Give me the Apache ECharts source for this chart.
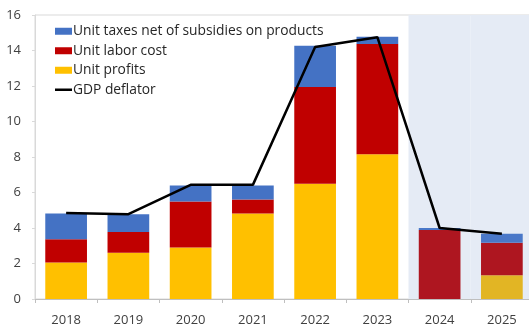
<!DOCTYPE html>
<html>
<head>
<meta charset="utf-8">
<script src="https://cdn.jsdelivr.net/npm/echarts@6/dist/echarts.min.js"></script>
<style>
  html, body { margin: 0; padding: 0; background: #fff; }
  #chart { width: 529px; height: 326px; }
</style>
</head>
<body>
<div id="chart"></div>
<script>
// Contributions to GDP deflator growth, percent
const years = ['2018', '2019', '2020', '2021', '2022', '2023', '2024', '2025'];
const forecastYears = ['2024', '2025'];
const unitProfits = [2.06, 2.6, 2.9, 4.82, 6.5, 8.15, 0, 1.34];
const unitLaborCost = [1.31, 1.18, 2.6, 0.78, 5.44, 6.21, 3.89, 1.83];
const unitTaxes = [1.44, 1.0, 0.89, 0.79, 2.33, 0.42, 0.11, 0.51];
const gdpDeflator = [4.84, 4.78, 6.43, 6.43, 14.2, 14.75, 4.0, 3.68];
const yTicks = { min: 0, max: 16, interval: 2 };

const FONT = '"Open Sans", "Noto Sans", sans-serif';
const colors = {
  taxes: '#4472c4',
  labor: '#c00000',
  profits: '#ffc000',
  laborF: '#ae1620',
  profitsF: '#e2b524',
  taxesF: '#4a78c8'
};

function withForecast(values, base, fc) {
  return values.map((v, i) => ({
    value: v,
    itemStyle: { color: forecastYears.includes(years[i]) ? fc : base }
  }));
}

const chart = echarts.init(document.getElementById('chart'), null, { renderer: 'canvas' });
chart.setOption({
  animation: false,
  backgroundColor: '#fff',
  textStyle: { fontFamily: FONT },
  grid: {
    left: 35, top: 15, right: -4, bottom: 27,
    containLabel: false,
    outerBoundsMode: 'none',
    show: true, borderColor: '#d9d9d9', borderWidth: 1
  },
  legend: {
    orient: 'vertical',
    left: 50, top: 19,
    itemWidth: 17, itemHeight: 7,
    itemGap: 5,
    textStyle: { fontFamily: FONT, fontSize: 13.8, color: '#262626', lineHeight: 14.5, padding: [0, 0, 0, -4] },
    data: [
      { name: 'Unit taxes net of subsidies on products', icon: 'rect' },
      { name: 'Unit labor cost', icon: 'rect' },
      { name: 'Unit profits', icon: 'rect' },
      { name: 'GDP deflator', icon: 'path://M0,0 L17,0 L17,2.5 L0,2.5 Z' }
    ]
  },
  xAxis: {
    type: 'category',
    data: years,
    axisLine: { lineStyle: { color: '#bfbfbf' } },
    axisTick: { show: true, length: 4, lineStyle: { color: '#bfbfbf' } },
    axisLabel: { fontFamily: FONT, fontSize: 13, color: '#404040', margin: 15 }
  },
  yAxis: {
    type: 'value',
    min: yTicks.min, max: yTicks.max, interval: yTicks.interval,
    splitLine: { show: false },
    axisLine: { show: true, lineStyle: { color: '#d9d9d9' } },
    axisTick: { show: true, length: 3, lineStyle: { color: '#d9d9d9' } },
    axisLabel: { fontFamily: FONT, fontSize: 13, color: '#404040', margin: 14 }
  },
  series: [
    {
      // forecast period shading, one full category band per forecast year
      name: 'forecast',
      type: 'custom',
      z: 0,
      silent: true,
      renderItem: function (params, api) {
        const top = api.coord([api.value(0), yTicks.max]);
        const bottom = api.coord([api.value(0), yTicks.min]);
        const w = api.size([1, 0])[0];
        return {
          type: 'rect',
          shape: { x: top[0] - w / 2, y: top[1], width: w, height: bottom[1] - top[1] },
          style: { fill: '#e5ebf5' }
        };
      },
      data: forecastYears.map(y => [y, yTicks.max])
    },
    {
      name: 'Unit profits', type: 'bar', stack: 'c', barWidth: '67%', z: 2,
      itemStyle: { color: colors.profits },
      data: withForecast(unitProfits, colors.profits, colors.profitsF)
    },
    {
      name: 'Unit labor cost', type: 'bar', stack: 'c', z: 2,
      itemStyle: { color: colors.labor },
      data: withForecast(unitLaborCost, colors.labor, colors.laborF)
    },
    {
      name: 'Unit taxes net of subsidies on products', type: 'bar', stack: 'c', z: 2,
      itemStyle: { color: colors.taxes },
      data: withForecast(unitTaxes, colors.taxes, colors.taxesF)
    },
    {
      name: 'GDP deflator', type: 'line', z: 3,
      symbol: 'none',
      lineStyle: { color: '#000', width: 2.5 },
      itemStyle: { color: '#000' },
      data: gdpDeflator
    }
  ]
});
</script>
</body>
</html>
